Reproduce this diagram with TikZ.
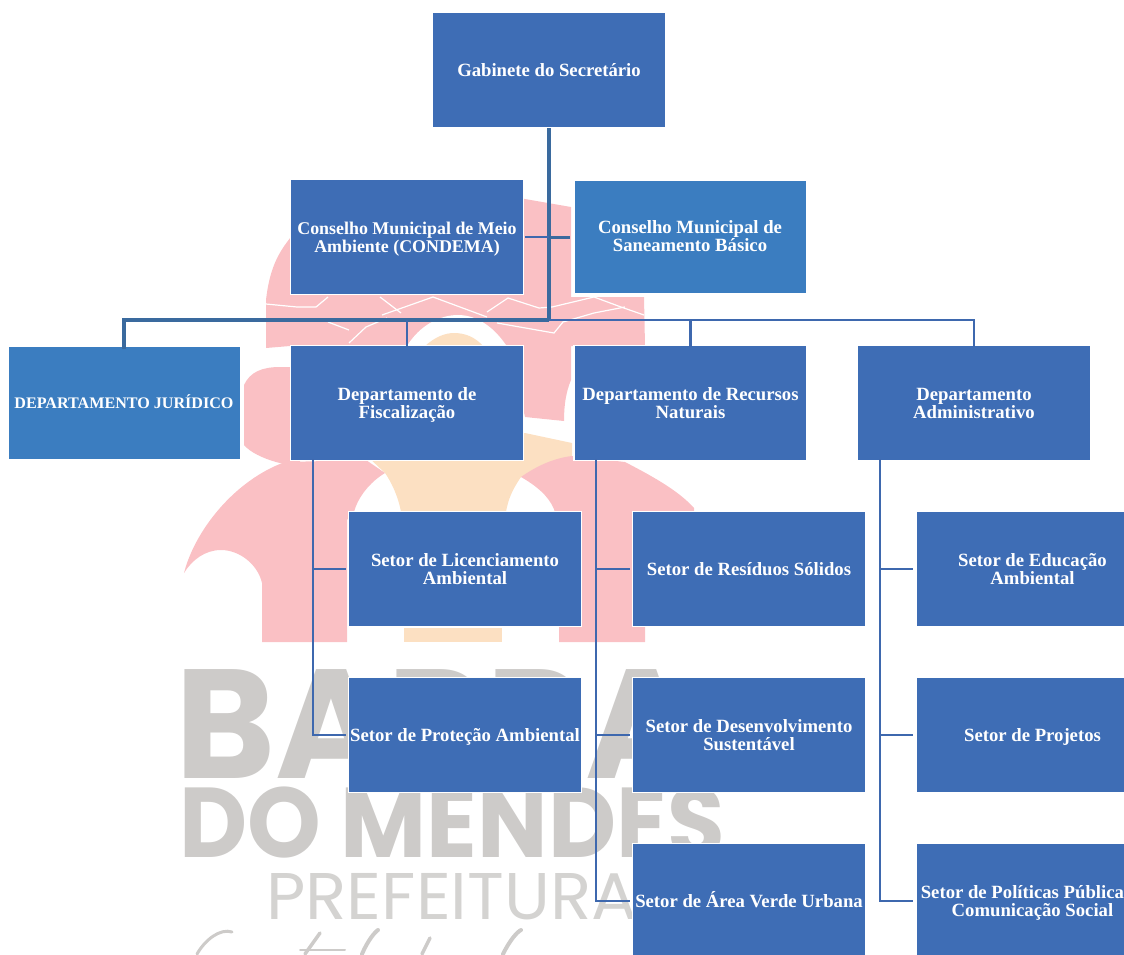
\documentclass[tikz,border=0pt]{standalone}
\usepackage{fontspec}
\setmainfont{Liberation Serif}
\newfontfamily\wmfont{Poppins}
\usetikzlibrary{calc}
\definecolor{boxblue}{HTML}{3E6DB5}
\definecolor{lightblue}{HTML}{3B7DC0}
\definecolor{linkblue}{HTML}{3E68AE}
\definecolor{trunkblue}{HTML}{3A6A9E}
\definecolor{wmpink}{HTML}{FAC0C4}
\definecolor{wmpeach}{HTML}{FCE0C2}
\definecolor{wmgrey}{HTML}{CDCBC9}
\tikzset{
  orgbox/.style={draw=white,line width=1.6pt,fill=boxblue,text=white,minimum width=233pt,minimum height=115pt,inner sep=0pt,align=center,
    font=\fontsize{18.7}{18}\selectfont\bfseries,text height=20pt,text depth=6.8pt},
  orgboxlight/.style={orgbox,draw=none,fill=lightblue,minimum width=231pt,minimum height=112pt},
  twolines/.style={text height=40pt,text depth=10pt},
  thinlink/.style={draw=linkblue,line width=2pt,shorten >=2pt},
  trunk/.style={draw=trunkblue,line width=4pt},
  vein/.style={draw=white,line width=1.2pt},
  wmbig/.style={text=wmgrey,inner sep=0pt,anchor=base west,font=\wmfont\bfseries\fontsize{160}{160}\selectfont},
}
\begin{document}
\begin{tikzpicture}[x=1pt,y=-1pt]
\useasboundingbox (0,0) rectangle (1124,954);
\clip (0,0) rectangle (1124,954);
% watermark: peach skin
\fill[wmpeach] (366,455) -- (525,433) -- (572,443) -- (572,460) -- (521,477) .. controls (512,490) and (508,500) .. (506,512) -- (401,512) .. controls (398,495) and (390,480) .. (385,473) -- cycle;
\fill[wmpeach] (404,628) rectangle (502,642);
% pink top band and dome
\fill[wmpink] (266,348) -- (266,300) .. controls (270,265) and (280,250) .. (295,232) .. controls (350,215) and (480,195) .. (525,199) -- (571,207) -- (571,297) -- (644,297) -- (645,346) -- (571,346) -- (571,380) .. controls (566,392) and (564,405) .. (564,421) -- (525,417) -- (510,350) -- (400,350) -- (290,346) -- cycle;
% head
\fill[wmpink] (244,385) .. controls (250,372) and (262,367) .. (280,367) -- (300,367) -- (300,468) -- (276,462) .. controls (262,458) and (250,452) .. (244,445) -- cycle;
% left body
\fill[wmpink] (184,573) .. controls (195,530) and (235,480) .. (285,462) -- (366,460) -- (385,473) .. controls (370,482) and (358,497) .. (354,512) -- (347,520) -- (347,642) -- (262,642) -- (262,583) .. controls (258,565) and (240,550) .. (221,550) .. controls (205,550) and (192,560) .. (184,573) -- cycle;
% right body
\fill[wmpink] (521,477) .. controls (538,465) and (555,458) .. (572,456) -- (625,462) .. controls (650,475) and (678,490) .. (694,508) -- (694,530) -- (645,530) -- (645,642) -- (559,642) -- (559,530) -- (554,509) .. controls (548,495) and (535,485) .. (521,477) -- cycle;
% head circle
\fill[white] (407,346) .. controls (420,325) and (440,315) .. (458,315) .. controls (478,315) and (495,328) .. (508,348) -- cycle;
\fill[wmpeach] (425,346) .. controls (435,337) and (445,333) .. (454,333) .. controls (465,333) and (475,337) .. (483,346) -- cycle;
% veins
\draw[vein] (266,304) -- (297,307) -- (316,307) -- (328,297);
\draw[vein] (380,297) -- (401,313);
\draw[vein] (382,315) -- (433,297) -- (487,317);
\draw[vein] (487,312) -- (508,298) -- (539,308) -- (552,307) -- (594,297) -- (621,307) -- (644,315);
\draw[vein] (328,322) -- (349,330);
\draw[vein] (349,343) -- (366,327) -- (387,318);
\draw[vein] (497,323) -- (554,333) -- (563,322) -- (594,313) -- (625,307);
% watermark lettering
\node[wmbig,xscale=0.95,yscale=0.97] (wmbarra) at (175,778) {BARRA};
\node[wmbig,xscale=0.586,yscale=0.62] (wmdo) at (179,857) {DO MENDES};
\node[text=wmgrey!85,inner sep=0pt,anchor=base west,xscale=1.03,font=\wmfont\fontsize{66}{66}\selectfont] (wmpref) at (266,919) {PREFEITURA};
\draw[wmgrey,line width=3pt,line cap=round] (197,954) .. controls (205,940) and (220,928) .. (232,932);
\draw[wmgrey,line width=3.5pt,line cap=round] (305,954) -- (320,933);
\draw[wmgrey,line width=2pt,line cap=round] (300,950) -- (345,950);
\draw[wmgrey,line width=4pt,line cap=round] (362,954) .. controls (368,940) and (375,932) .. (378,930);
\draw[wmgrey,line width=3.5pt,line cap=round] (422,954) -- (430,938);
\draw[wmgrey,line width=4pt,line cap=round] (503,954) .. controls (510,940) and (517,932) .. (521,930);
% boxes
\node[orgbox] (gab) at (549,70) {Gabinete do Secretário};
\node[orgbox,twolines,font=\fontsize{17.9}{18}\selectfont\bfseries] (cond) at (407,237) {Conselho Municipal de Meio\\Ambiente (CONDEMA)};
\node[orgboxlight,twolines] (san) at (690,236.5) {Conselho Municipal de\\Saneamento Básico};
\node[orgboxlight,text height=16.6pt,text depth=5.4pt,font=\fontsize{16.1}{18}\selectfont\bfseries] (jur) at (124,403) {DEPARTAMENTO JURÍDICO};
\node[orgbox,twolines] (fisc) at (407,403) {Departamento de\\Fiscalização};
\node[orgbox,twolines] (rec) at (690.5,403) {Departamento de Recursos\\Naturais};
\node[orgbox,twolines] (adm) at (974,403) {Departamento\\Administrativo};
\node[orgbox,twolines] (lic) at (465,569) {Setor de Licenciamento\\Ambiental};
\node[orgbox] (prot) at (465,735) {Setor de Proteção Ambiental};
\node[orgbox] (res) at (749,569) {Setor de Resíduos Sólidos};
\node[orgbox,twolines] (des) at (749,735) {Setor de Desenvolvimento\\Sustentável};
\node[orgbox] (area) at (749,901) {Setor de Área Verde Urbana};
\node[orgbox,twolines] (edu) at (1032.5,569) {Setor de Educação\\Ambiental};
\node[orgbox] (proj) at (1032.5,735) {Setor de Projetos};
\node[orgbox,twolines] (pol) at (1032.5,901) {Setor de Políticas Pública\phantom{s e}\\Comunicação Social};
% connectors
\coordinate (hub) at (gab.south |- 0,320);
\draw[trunk] (gab.south) -- (hub);
\draw[trunk] (hub) -| ([yshift=-3pt]jur.north);
\draw[draw=linkblue,line width=2.5pt] (hub) -- (hub -| adm.north) -- ([yshift=-2pt]adm.north);
\draw[draw=linkblue,line width=2.5pt] (hub -| rec.north) -- ([yshift=-2pt]rec.north);
\draw[draw=linkblue,line width=2.5pt] (hub -| fisc.north) -- ([yshift=-2pt]fisc.north);
\draw[draw=linkblue,line width=2pt] ([xshift=1pt]cond.east) -- (gab.south |- cond.east);
\draw[draw=trunkblue,line width=3pt] (gab.south |- cond.east) -- ([xshift=-4pt]san.west |- cond.east);
\draw[thinlink] ([xshift=23pt,yshift=2pt]fisc.south west) |- (prot.west);
\draw[thinlink] ([xshift=23pt]fisc.south west |- lic.west) -- (lic.west);
\draw[thinlink] ([xshift=23pt,yshift=2pt]rec.south west) |- (area.west);
\draw[thinlink] ([xshift=23pt]rec.south west |- res.west) -- (res.west);
\draw[thinlink] ([xshift=23pt]rec.south west |- des.west) -- (des.west);
\draw[thinlink] ([xshift=23pt,yshift=2pt]adm.south west) |- (pol.west);
\draw[thinlink] ([xshift=23pt]adm.south west |- edu.west) -- (edu.west);
\draw[thinlink] ([xshift=23pt]adm.south west |- proj.west) -- (proj.west);
\end{tikzpicture}
\end{document}
